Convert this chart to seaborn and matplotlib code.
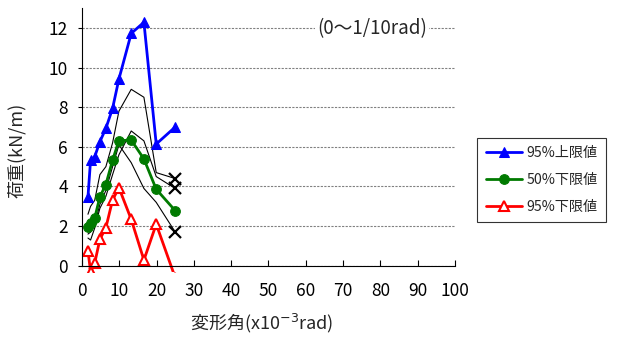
import matplotlib
matplotlib.use("Agg")
import matplotlib.pyplot as plt
import seaborn as sns
from matplotlib.transforms import Bbox, TransformedBbox

# Drift angle (x10^-3 rad) of each load step
drift = [1.6, 2.3, 3.4, 4.8, 6.4, 8.2, 9.9, 13.2, 16.6, 19.9, 25.0]

# Statistical bounds of the load (kN/m)
upper95 = [3.48, 5.33, 5.5, 6.26, 6.93, 7.94, 9.42, 11.72, 12.28, 6.14, 7.0]
lower50 = [1.97, 2.14, 2.4, 3.48, 4.1, 5.33, 6.31, 6.34, 5.39, 3.86, 2.78]
lower95 = [0.76, -0.3, 0.13, 1.34, 1.92, 3.32, 3.94, 2.34, 0.29, 2.1, -0.6]

# Individual specimen curves
test_a = [2.6, 3.0, 3.3, 4.6, 5.0, 6.2, 7.8, 8.9, 8.5, 4.7, 4.4]
test_b = [1.4, 1.3, 1.9, 2.9, 3.5, 4.6, 5.6, 6.8, 6.3, 4.5, 3.9]
test_c = [1.6, 1.7, 2.1, 3.1, 3.8, 5.0, 6.1, 5.2, 3.9, 3.2, 1.7]

series_labels = ["95%上限値", "50%下限値", "95%下限値"]
x_ticks = list(range(0, 101, 10))
y_ticks = list(range(0, 13, 2))

sns.set_style("white")
plt.rcParams["font.family"] = ["Noto Sans CJK JP", "DejaVu Sans"]
plt.rcParams["axes.unicode_minus"] = False

fig = plt.figure(figsize=(6.17, 3.41), dpi=100)
ax = fig.add_axes([0.1329, 0.2205, 0.6045, 0.756])

for ys in (test_a, test_b, test_c):
    sns.lineplot(x=drift, y=ys, ax=ax, color="black", linewidth=0.8,
                 sort=False, estimator=None, legend=False,
                 marker="x", markevery=[len(ys) - 1], markersize=9,
                 markeredgewidth=1.6, markeredgecolor="black")

sns.lineplot(x=drift, y=upper95, ax=ax, color="#0000FF", linewidth=2,
             marker="^", markersize=7, markeredgecolor="#0000FF",
             markerfacecolor="#0000FF", sort=False, estimator=None,
             label=series_labels[0])
sns.lineplot(x=drift, y=lower50, ax=ax, color="#007A00", linewidth=2,
             marker="o", markersize=7, markeredgecolor="#007A00",
             markerfacecolor="#007A00", sort=False, estimator=None,
             label=series_labels[1])
sns.lineplot(x=drift, y=lower95, ax=ax, color="#FF0000", linewidth=2,
             marker="^", markersize=7, markeredgecolor="#FF0000",
             markerfacecolor="white", markeredgewidth=1.5, sort=False,
             estimator=None, label=series_labels[2])

ax.set_xlim(0, 100)
ax.set_ylim(0, 13)
ax.set_xticks(x_ticks)
ax.set_yticks(y_ticks)
ax.tick_params(axis="x", direction="in", length=4, width=0.8, pad=12,
               labelsize=12.5, colors="black", bottom=True)
ax.tick_params(axis="y", direction="out", length=3, width=0.8, pad=7,
               labelsize=12.5, colors="black", left=True)

for side in ("top", "right"):
    ax.spines[side].set_visible(False)
for side in ("left", "bottom"):
    ax.spines[side].set_color("black")
    ax.spines[side].set_linewidth(0.8)

ax.yaxis.grid(True, color="#808080", linestyle=(0, (2, 1.2)), linewidth=0.8)
ax.xaxis.grid(False)
ax.set_axisbelow(True)

# let the series run slightly past the bottom axis line
clip = TransformedBbox(Bbox([[0, -0.025], [1, 1.0]]), ax.transAxes)
for ln in ax.lines:
    ln.set_clip_path(None)
    ln.set_clip_box(clip)

ax.set_xlabel(r"変形角(x10$^{-3}$rad)", fontsize=13, va="center")
ax.set_ylabel("荷重(kN/m)", fontsize=13, va="center")
ax.xaxis.set_label_coords(0.483, -0.222)
ax.yaxis.set_label_coords(-0.174, 0.449)

ax.text(77.8, 11.95, "(0〜1/10rad)", ha="center", va="center", fontsize=13.5,
        bbox=dict(facecolor="white", edgecolor="none", pad=1.5))

handles, labels = ax.get_legend_handles_labels()
leg = ax.legend(handles, labels, loc="center left",
                bbox_to_anchor=(477 / 617, 1 - 180 / 341),
                bbox_transform=fig.transFigure, fontsize=10.2,
                frameon=True, fancybox=False, edgecolor="black",
                handlelength=2.6, handletextpad=0.3, labelspacing=0.9,
                borderpad=0.6, borderaxespad=0)
leg.get_frame().set_linewidth(0.8)

fig.savefig("out.png", dpi=100)
